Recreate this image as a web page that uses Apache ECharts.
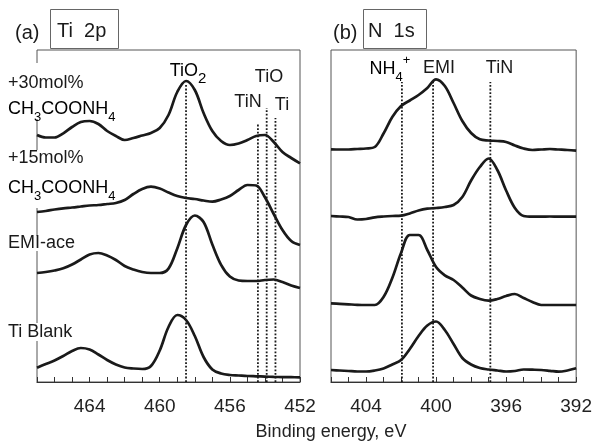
<!DOCTYPE html>
<html>
<head>
<meta charset="utf-8">
<script src="https://cdn.jsdelivr.net/npm/echarts@6/dist/echarts.min.js"></script>
<style>
html,body{margin:0;padding:0;background:#fff;}
#chart{width:595px;height:443px;}
</style>
</head>
<body>
<div id="chart"></div>
<script>
// ---- Ti 2p panel (binding energy, eV) ----
const tiEnergy = [467,466.5,466,465.5,465,464.5,464,463.5,463,462.5,462,461.5,461,460.5,460,459.5,459,458.5,458,457.5,457,456.5,456,455.5,455,454.5,454,453.5,453,452.5,452];
// intensities (arbitrary units, stacked offsets included)
const ti30mol = [247,244.5,244.5,248.7,255,260,261,258,251,246,242,244,246.5,249,254,267,290,301,292,269,251,241,237,238.5,242,246,247,240,230,224,218.7];
const ti15mol = [170,171,172.5,173.7,174.5,175.5,176.5,177,178,179,182,188,193,195.3,193.5,189.5,186,184,183,181.5,180.3,182.5,186,192,197,196.5,184.7,168,152,141,137];
const tiEmiAce = [109,110,111.5,113.7,117.5,122.5,127.5,129,126.5,122,116,112.5,110,109,109,113.4,133.6,157,166.5,160,137.5,117.2,105.4,101.5,101,101,102,102.5,100,96.5,94];
const tiBlank = [14.3,18,21.5,26,31,34,32.5,27.5,22,17.5,14.5,13.5,13,16,31.5,55,67,62,46,25,12.5,8.5,7,6.5,6,5.7,5.4,5.1,4.9,4.8,4.7];
const tiRefNames = ['TiO2','TiN','TiO','Ti'];
const tiRefEnergy = [458.5,454.4,453.9,453.4];
const tiRefTop = [297,259,274,264];

// ---- N 1s panel ----
const nEnergy = [406,405.5,405,404.5,404,403.5,403,402.5,402,401.5,401,400.5,400,399.5,399,398.5,398,397.5,397,396.5,396,395.5,395,394.5,394,393.5,393,392.5,392];
const n30mol = [232.7,232.5,232.5,233,233.5,235,248.5,265,276,281.5,287,294,302.7,296,279,261,249,242.7,241.5,241,240,236.5,233.5,232,232.5,233,232.5,232,231.3];
const n15mol = [166,165.5,165,162.5,163,164.7,165.5,166,166.3,168.5,171.5,173.3,174,175,177,185,201.5,215,223.5,212,191.5,174,166,165.3,165.3,165.5,165.3,165.3,165.3];
const nEmiAce = [78.7,78.2,77.7,77.2,77,77,85,104,129,147,147,132,115,106.7,102,94.5,86.5,83,81.3,83,86,88,84,80,77,77,77,77,77];
const nBlank = [12,11.5,11,10.5,10.5,11.5,13.5,17.5,22,33,46,56.5,60.5,52,38,24,17.5,14,12.5,11.5,10.5,11,12.5,12.3,12,11.2,10.3,11.5,13.7];
const nRefNames = ['NH4+','EMI','TiN'];
const nRefEnergy = [401.95,400.17,396.9];
const nRefTop = [300,300,300];

const tickLabels = [452,456,460,464,392,396,400,404];

const FONT = '"Liberation Sans", Arial, sans-serif';
const INK = '#1a1a1a';

function pairs(xs, ys){ return xs.map((x,i)=>[x, ys[i]]); }

function curve(idx, xs, ys){
  return {type:'line', xAxisIndex:idx, yAxisIndex:idx, data:pairs(xs,ys), smooth:0.35,
    showSymbol:false, symbol:'none', z:3, silent:true,
    lineStyle:{color:INK, width:2.7}};
}
function refLine(idx, e, top){
  return {type:'line', xAxisIndex:idx, yAxisIndex:idx, data:[[e,0],[e,top]], showSymbol:false, symbol:'none', z:2, silent:true,
    lineStyle:{color:INK, width:1.8, type:'dotted'}};
}

const series = [
  curve(0, tiEnergy, ti30mol), curve(0, tiEnergy, ti15mol), curve(0, tiEnergy, tiEmiAce), curve(0, tiEnergy, tiBlank),
  curve(1, nEnergy, n30mol), curve(1, nEnergy, n15mol), curve(1, nEnergy, nEmiAce), curve(1, nEnergy, nBlank)
];
tiRefEnergy.forEach((e,i)=>series.push(refLine(0, e, tiRefTop[i])));
nRefEnergy.forEach((e,i)=>series.push(refLine(1, e, nRefTop[i])));

function xAxis(idx, min, max){
  return {gridIndex:idx, type:'value', min:min, max:max, interval:1, inverse:true,
    axisLine:{show:true, lineStyle:{color:'#333', width:1.2}},
    axisTick:{show:true, inside:true, length:5, lineStyle:{color:'#333', width:1}},
    splitLine:{show:false},
    axisLabel:{show:true, margin:15, fontSize:19, color:'#222', fontFamily:FONT,
      formatter:v => tickLabels.indexOf(v) >= 0 ? String(v) : ''}};
}

const subRich = {
  m:{fontSize:18, fontFamily:FONT, color:INK, lineHeight:30},
  s:{fontSize:13, fontFamily:FONT, color:INK, lineHeight:30, verticalAlign:'bottom'},
  p:{fontSize:13, fontFamily:FONT, color:INK, lineHeight:26, verticalAlign:'top'},
  t:{fontSize:15, fontFamily:FONT, color:INK, lineHeight:24, verticalAlign:'bottom'}
};

function label(x, y, text, opts){
  return {type:'text', x:x, y:y, z:100, silent:true,
    style:Object.assign({text:text, fill:INK, font:'18px ' + FONT, verticalAlign:'middle', align:'left'}, opts||{})};
}
function richLabel(x, y, text, align){
  return {type:'text', x:x, y:y, z:100, silent:true,
    style:{text:text, rich:subRich, verticalAlign:'middle', align:align||'left'}};
}
// white masks where the sample labels interrupt the left frame line of panel (a)
function mask(y0, y1){
  return {type:'rect', z:50, silent:true, shape:{x:34, y:y0, width:6, height:y1-y0}, style:{fill:'#fff'}};
}

const graphic = [
  mask(63, 119), mask(150, 208), mask(236, 251), mask(323, 341),
  // panel titles
  label(15, 33, '(a)', {font:'20px ' + FONT}),
  {type:'rect', z:100, shape:{x:50.5, y:9.5, width:68, height:39}, style:{fill:'#fff', stroke:'#666', lineWidth:1}},
  label(57, 31, 'Ti  2p', {font:'20px ' + FONT}),
  label(333, 33, '(b)', {font:'20px ' + FONT}),
  {type:'rect', z:100, shape:{x:363.5, y:9.5, width:63, height:39}, style:{fill:'#fff', stroke:'#666', lineWidth:1}},
  label(368, 31, 'N  1s', {font:'20px ' + FONT}),
  // sample labels (panel a)
  label(8, 83, '+30mol%'),
  richLabel(8, 109, '{m|CH}{s|3}{m|COONH}{s|4}'),
  label(8, 158, '+15mol%'),
  richLabel(8, 188, '{m|CH}{s|3}{m|COONH}{s|4}'),
  label(8, 243, 'EMI-ace'),
  label(8, 332, 'Ti Blank'),
  // reference labels panel a
  richLabel(188, 71, '{m|TiO}{t|2}', 'center'),
  label(269, 77, 'TiO', {align:'center'}),
  label(248, 102, 'TiN', {align:'center'}),
  label(282, 105, 'Ti', {align:'center'}),
  // reference labels panel b
  richLabel(390, 69, '{m|NH}{s|4}{p|+}', 'center'),
  label(439, 68, 'EMI', {align:'center'}),
  label(499.5, 68, 'TiN', {align:'center'}),
  // axis title
  label(331, 432, 'Binding energy, eV', {align:'center', font:'18px ' + FONT, fill:'#222'})
];

const option = {
  animation:false,
  backgroundColor:'#fff',
  grid:[
    {left:37, right:295, top:50, bottom:61, show:true, borderColor:'#555', borderWidth:1, backgroundColor:'transparent'},
    {left:331, right:18, top:50, bottom:61, show:true, borderColor:'#555', borderWidth:1, backgroundColor:'transparent'}
  ],
  xAxis:[xAxis(0, 452, 467), xAxis(1, 392, 406)],
  yAxis:[
    {gridIndex:0, type:'value', min:0, max:332, show:false, splitLine:{show:false}},
    {gridIndex:1, type:'value', min:0, max:332, show:false, splitLine:{show:false}}
  ],
  series:series,
  graphic:graphic
};

const chart = echarts.init(document.getElementById('chart'), null, {renderer:'canvas'});
chart.setOption(option);
</script>
</body>
</html>
